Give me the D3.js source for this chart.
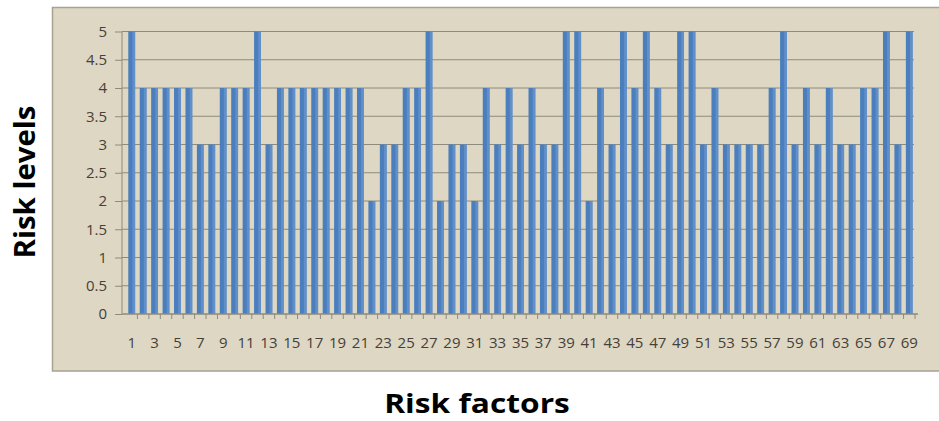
<!DOCTYPE html>
<html><head><meta charset="utf-8">
<script src="https://cdn.jsdelivr.net/npm/d3@7"></script>
<style>body{margin:0;background:#fff;}svg{display:block;}</style>
</head><body>
<svg id="c" width="939" height="421"></svg>
<script>
const categories = d3.range(1, 70).map(String);
const riskLevels = [5,4,4,4,4,4,3,3,4,4,4,5,3,4,4,4,4,4,4,4,4,2,3,3,4,4,5,2,3,3,2,4,3,4,3,4,3,3,5,5,2,4,3,5,4,5,4,3,5,5,3,4,3,3,3,3,4,5,3,4,3,4,3,3,4,4,5,3,5];
const yTicks = [0,0.5,1,1.5,2,2.5,3,3.5,4,4.5,5];
const xLabels = categories.filter((d,i)=>i%2===0);

const svg = d3.select("#c");
svg.append("rect").attr("x",52.5).attr("y",7.5).attr("width",900).attr("height",363.5)
  .attr("fill","#ded7c3").attr("stroke","#a7a291").attr("stroke-width",1.5);

const x = d3.scaleBand().domain(categories).range([126, 915]).paddingInner(0.4).paddingOuter(0.2);
const y = d3.scaleLinear().domain([0,5]).range([314, 31.5]);
const xAxisStart = 122, xAxisEnd = 918;

// grid
svg.append("g").selectAll("line").data(yTicks.filter(d=>d>0)).join("line")
  .attr("x1", xAxisStart).attr("x2", 914)
  .attr("y1", d=>y(d)).attr("y2", d=>y(d))
  .attr("stroke","#8f8a7c").attr("stroke-width",1);

// bars
svg.append("g").selectAll("rect").data(riskLevels).join("rect")
  .attr("x",(d,i)=>x(categories[i])).attr("width",x.bandwidth())
  .attr("y",d=>y(d)).attr("height",d=>y(0)-y(d))
  .attr("fill","#4a7ebd");
svg.append("g").selectAll("rect").data(riskLevels).join("rect")
  .attr("x",(d,i)=>x(categories[i])+x.bandwidth()*0.6).attr("width",x.bandwidth()*0.4)
  .attr("y",d=>y(d)).attr("height",d=>y(0)-y(d))
  .attr("fill","#6f9bd2").attr("opacity",0.6);

// y axis
const yAxis = d3.axisLeft(y).tickValues(yTicks).tickSize(7).tickPadding(8).tickFormat(d3.format("~g"));
const gy = svg.append("g").attr("transform",`translate(${xAxisStart},0)`).call(yAxis);
gy.select(".domain").attr("stroke","#8f8a7c").attr("d",`M-0,${y(5)}V${y(0)}`);
gy.selectAll(".tick line").attr("stroke","#8f8a7c");
gy.selectAll("text").attr("fill","#45413a").style("font-family","Open Sans, sans-serif").style("font-size","15px");

// x axis
svg.append("line").attr("x1",xAxisStart).attr("x2",xAxisEnd).attr("y1",y(0)).attr("y2",y(0))
  .attr("stroke","#8f8a7c").attr("stroke-width",1.5);
const step = x.step();
svg.append("g").selectAll("line").data(categories).join("line")
  .attr("x1",d=>x(d)+x.bandwidth()+ (step-x.bandwidth())/2).attr("x2",d=>x(d)+x.bandwidth()+(step-x.bandwidth())/2)
  .attr("y1",y(0)).attr("y2",y(0)+5).attr("stroke","#8f8a7c");
svg.append("g").selectAll("text").data(xLabels).join("text")
  .attr("x",d=>x(d)+x.bandwidth()/2).attr("y",348)
  .attr("text-anchor","middle").attr("fill","#45413a")
  .style("font-family","Open Sans, sans-serif").style("font-size","15px")
  .text(d=>d);

// titles
svg.append("text").attr("transform","translate(35,182) rotate(-90) scale(1.05,1)")
  .attr("text-anchor","middle").attr("fill","#000")
  .style("font-family","Open Sans, sans-serif").style("font-weight","bold").style("font-size","28px")
  .text("Risk levels");
svg.append("text").attr("transform","translate(477,413) scale(1.22,1)")
  .attr("text-anchor","middle").attr("fill","#000")
  .style("font-family","Open Sans, sans-serif").style("font-weight","bold").style("font-size","26px")
  .text("Risk factors");
</script>
</body></html>
